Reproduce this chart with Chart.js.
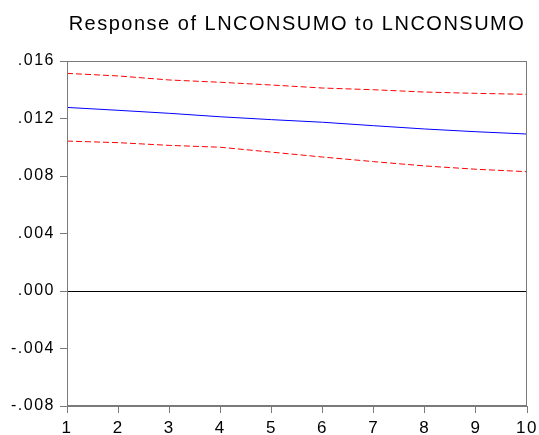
<!DOCTYPE html>
<html>
<head>
<meta charset="utf-8">
<script src="https://cdn.jsdelivr.net/npm/chart.js@4"></script>
<style>
  html, body { margin: 0; padding: 0; background: #ffffff; }
  #wrap { width: 539px; height: 435px; }
</style>
</head>
<body>
<div id="wrap"><canvas id="c" width="539" height="435"></canvas></div>
<script>
const chartTitle = 'Response of LNCONSUMO to LNCONSUMO';
const periods = [1, 2, 3, 4, 5, 6, 7, 8, 9, 10];
const response = [0.01277, 0.01257, 0.01236, 0.01212, 0.01192, 0.01174, 0.01150, 0.01127, 0.01108, 0.01092];
const upperBand = [0.01514, 0.01496, 0.01468, 0.01452, 0.01433, 0.01412, 0.01400, 0.01384, 0.01375, 0.01368];
const lowerBand = [0.01043, 0.01032, 0.01013, 0.01000, 0.00966, 0.00932, 0.00900, 0.00870, 0.00847, 0.00830];
const yTickValues = [-0.008, -0.004, 0.000, 0.004, 0.008, 0.012, 0.016];
const xTickValues = [1, 2, 3, 4, 5, 6, 7, 8, 9, 10];

const pts = arr => periods.map((p, i) => ({ x: p, y: arr[i] }));
const fmtY = v => {
  if (Math.abs(v) < 1e-12) return '.000';
  const s = Math.abs(v).toFixed(3).replace(/^0/, '');
  return (v < 0 ? '-' : '') + s;
};

const spacingPlugin = {
  id: 'spacing',
  beforeDraw(chart) { chart.ctx.letterSpacing = '1.5px'; },
  afterDraw(chart) { chart.ctx.letterSpacing = '0px'; }
};
const framePlugin = {
  id: 'frame',
  afterDatasetsDraw(chart) {
    const a = chart.chartArea, ctx = chart.ctx;
    ctx.save();
    ctx.strokeStyle = '#7a7a7a';
    ctx.lineWidth = 1;
    ctx.strokeRect(Math.round(a.left) + 0.5, Math.round(a.top) + 0.5,
                   Math.round(a.right - a.left) - 1, Math.round(a.bottom - a.top) - 1);
    ctx.restore();
  }
};

new Chart(document.getElementById('c'), {
  type: 'line',
  data: {
    datasets: [
      { data: pts(upperBand), borderColor: '#ff0000', borderWidth: 1, borderDash: [6, 3], pointRadius: 0, fill: false, tension: 0 },
      { data: pts(response), borderColor: '#0000ff', borderWidth: 1, pointRadius: 0, fill: false, tension: 0 },
      { data: pts(lowerBand), borderColor: '#ff0000', borderWidth: 1, borderDash: [6, 3], pointRadius: 0, fill: false, tension: 0 }
    ]
  },
  options: {
    responsive: false,
    animation: false,
    events: [],
    layout: { padding: { left: 0, right: 12, top: 0, bottom: 0 } },
    plugins: {
      legend: { display: false },
      tooltip: { enabled: false },
      title: {
        display: true,
        text: chartTitle,
        fullSize: false,
        color: '#000000',
        font: { family: "'Liberation Sans', Arial, sans-serif", size: 20, weight: 'normal', lineHeight: 1.2 },
        padding: { top: 12, bottom: 25 }
      }
    },
    scales: {
      x: {
        type: 'linear',
        min: 1, max: 10,
        afterBuildTicks: s => { s.ticks = xTickValues.map(v => ({ value: v })); },
        afterFit: s => { s.height = 29; s.paddingLeft = 0; s.paddingRight = 0; },
        ticks: {
          color: '#000000',
          font: { family: "'Liberation Sans', Arial, sans-serif", size: 17 },
          padding: 5,
          maxRotation: 0,
          autoSkip: false,
          callback: v => String(v)
        },
        grid: { drawOnChartArea: false, drawTicks: true, tickLength: 7, tickColor: '#7a7a7a', color: '#7a7a7a' },
        border: { display: true, color: '#7a7a7a', width: 1 }
      },
      y: {
        type: 'linear',
        min: -0.008, max: 0.016,
        afterBuildTicks: s => { s.ticks = yTickValues.map(v => ({ value: v })); },
        afterFit: s => { s.width = 67; },
        ticks: {
          color: '#000000',
          font: { family: "'Liberation Sans', Arial, sans-serif", size: 16 },
          padding: 5,
          autoSkip: false,
          callback: v => fmtY(v)
        },
        grid: {
          drawOnChartArea: true,
          drawTicks: true,
          tickLength: 7,
          tickColor: '#7a7a7a',
          color: c => (c.tick && Math.abs(c.tick.value) < 1e-12) ? '#000000' : 'rgba(0,0,0,0)',
          lineWidth: 1
        },
        border: { display: true, color: '#7a7a7a', width: 1 }
      }
    }
  },
  plugins: [spacingPlugin, framePlugin]
});
</script>
</body>
</html>
